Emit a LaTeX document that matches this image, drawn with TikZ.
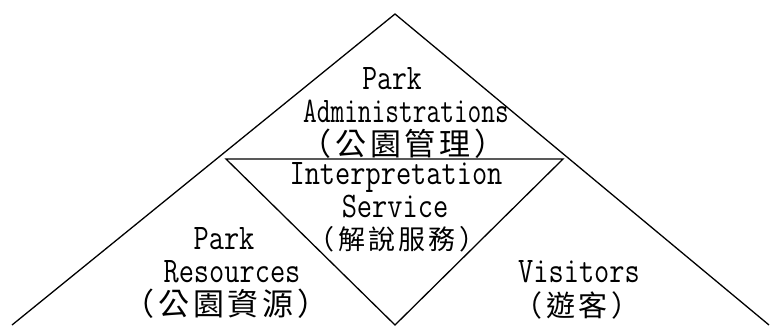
\documentclass[tikz,border=0pt]{standalone}
\usepackage{fontspec}
\usepackage{tikz}
\newfontfamily\cjkfont[LetterSpace=12]{Noto Sans CJK TC}
\newcommand\narrow[2][0.8]{\scalebox{#1}[1]{#2}}
\tikzset{
  side/.style={black,line width=1.3pt},
  lbl/.style={anchor=base,inner sep=0pt,text depth=1pt,font=\ttfamily\fontsize{36}{36}\selectfont},
  cjklbl/.style={anchor=base,inner sep=0pt,text height=20pt,text depth=1pt,font=\cjkfont\fontsize{#1}{#1}\selectfont},
  cjklbl/.default=31
}
\begin{document}
\begin{tikzpicture}[x=1pt,y=-1pt]
\useasboundingbox (0,0) rectangle (770,325);

% outer triangle, open at the bottom
\draw[side] (12,325) -- (395,14) -- (769,325);

% inner triangle
\draw[side] (226,159) -- (563,159) -- (395,325) -- cycle;

% top
\node[lbl] (adm1) at (392,89) {\narrow{Park}};
\node[lbl] (adm2) at (406,122) {\narrow[0.74]{Administrations}};
\node[cjklbl] (adm3) at (403,155) {（公園管理）};

% middle
\node[lbl] (int1) at (396,184) {\narrow[0.82]{Interpretation}};
\node[lbl] (int2) at (395,217) {\narrow[0.82]{Service}};
\node[cjklbl=27] (int3) at (397,249) {（解說服務）};

% left
\node[lbl] (res1) at (224,249) {\narrow[0.82]{Park}};
\node[lbl] (res2) at (232,282) {\narrow[0.82]{Resources}};
\node[cjklbl] (res3) at (226,315) {（公園資源）};

% right
\node[lbl] (vis1) at (579,282) {\narrow[0.82]{Visitors}};
\node[cjklbl=29] (vis2) at (577,316) {（遊客）};

\end{tikzpicture}
\end{document}
